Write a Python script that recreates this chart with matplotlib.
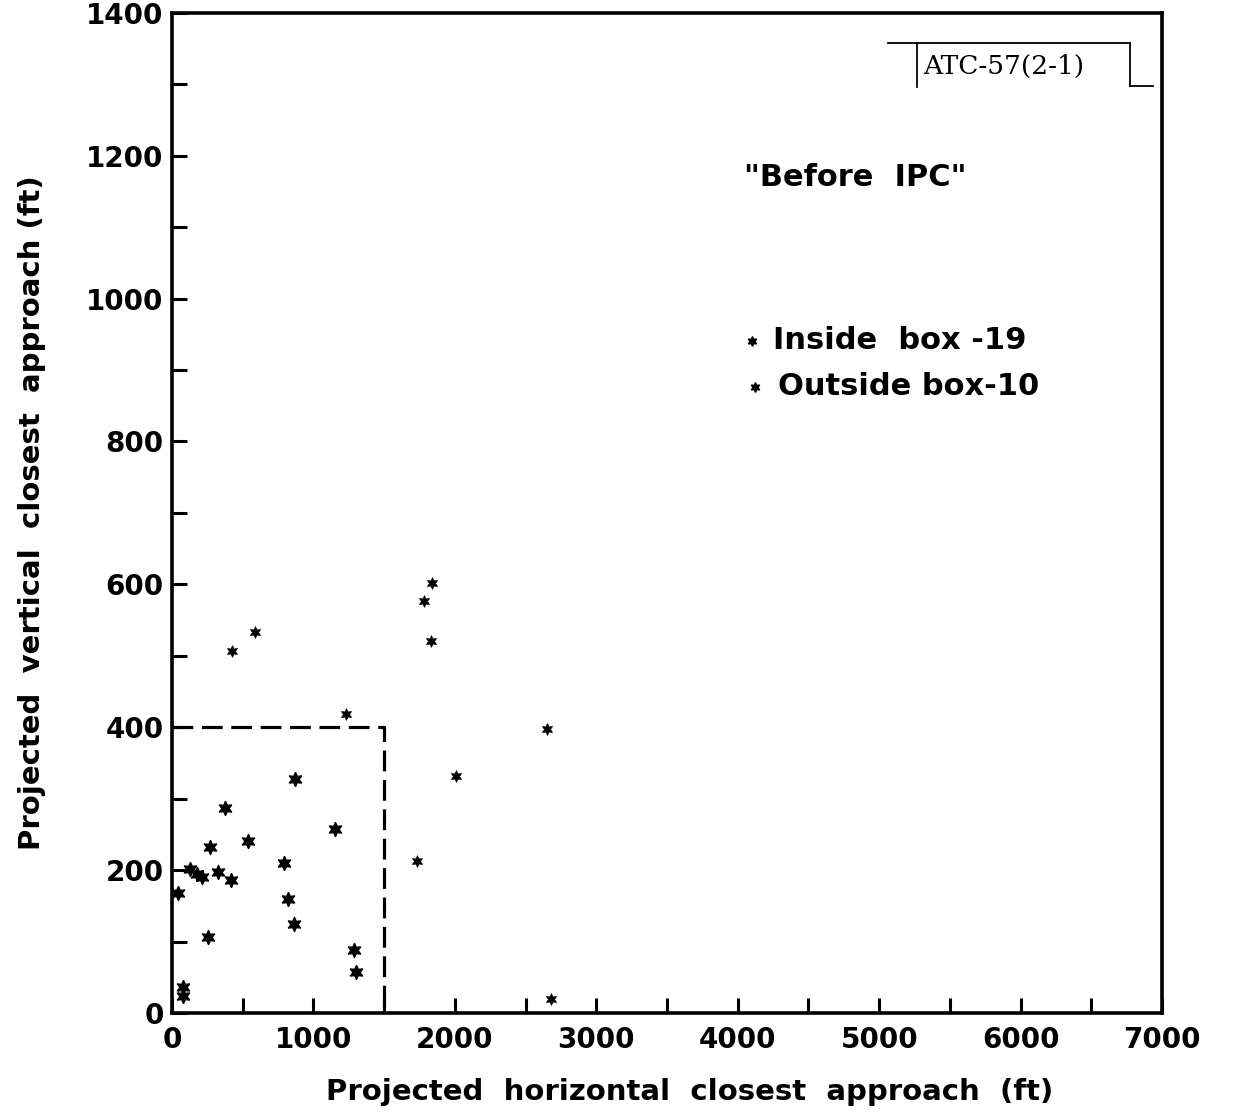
import numpy as np
import matplotlib
matplotlib.use("Agg")
import matplotlib.pyplot as plt
from matplotlib.ticker import MultipleLocator

# encounters inside the 1500 ft x 400 ft box (ft)
inside_x = [870, 377, 1153, 540, 269, 792, 127, 175, 214, 327,
            417, 40, 818, 865, 252, 1287, 1301, 80, 80]
inside_y = [327, 287, 257, 241, 232, 210, 201, 195, 191, 197,
            186, 168, 160, 125, 107, 88, 58, 36, 24]

# encounters outside the box (ft)
outside_x = [1841, 1784, 1829, 587, 427, 1231, 2008, 1735, 2654, 2680]
outside_y = [602, 576, 520, 533, 507, 419, 332, 213, 397, 19]

box_x = 1500
box_y = 400

x_max = 7000
y_max = 1400

plt.rcParams['font.family'] = 'DejaVu Sans'

fig = plt.figure(figsize=(12.34, 11.13), dpi=100)
ax = fig.add_axes([0.1394, 0.0898, 0.8023, 0.8988])

star = (6, 1, 0)
ax.plot(inside_x, inside_y, linestyle='none', marker=star, markersize=10.5,
        color='black', markeredgewidth=0.9)
ax.plot(outside_x, outside_y, linestyle='none', marker=star, markersize=8.5,
        color='black', markeredgewidth=0.5)

# the "box"
ax.plot([0, box_x, box_x], [box_y, box_y, 0], color='black', lw=2.3,
        dashes=(6.5, 2.7), clip_on=False)

ax.set_xlim(0, x_max)
ax.set_ylim(0, y_max)
ax.xaxis.set_major_locator(MultipleLocator(1000))
ax.xaxis.set_minor_locator(MultipleLocator(500))
ax.yaxis.set_major_locator(MultipleLocator(200))
ax.yaxis.set_minor_locator(MultipleLocator(100))
ax.tick_params(which='both', direction='in', length=11, width=2.2, color='black')
ax.tick_params(axis='x', which='major', labelsize=20, pad=9)
ax.tick_params(axis='y', which='major', labelsize=20, pad=6)
for lab in ax.get_xticklabels() + ax.get_yticklabels():
    lab.set_fontweight('bold')
for sp in ax.spines.values():
    sp.set_linewidth(2.6)

ax.set_xlabel('Projected  horizontal  closest  approach  (ft)', fontsize=21,
              fontweight='bold')
ax.xaxis.label.set_va('center')
ax.xaxis.set_label_coords(0.523, -0.079)
ax.set_ylabel('Projected  vertical  closest  approach (ft)', fontsize=21,
              fontweight='bold')
ax.yaxis.label.set_va('center')
ax.yaxis.set_label_coords(-0.141, 0.5)

ax.text(0.690, 0.835, '"Before  IPC"', transform=ax.transAxes, fontsize=22,
        fontweight='bold', ha='center', va='center')

# legend written as on the original
ax.plot([0.586, 0.589], [0.672, 0.626], linestyle='none', marker=star,
        markersize=7, color='black', transform=ax.transAxes)
ax.text(0.607, 0.672, f'Inside  box -{len(inside_x)}', transform=ax.transAxes,
        fontsize=22, fontweight='bold', ha='left', va='center')
ax.text(0.612, 0.626, f'Outside box-{len(outside_x)}', transform=ax.transAxes,
        fontsize=22, fontweight='bold', ha='left', va='center')

# report number tab
tab = dict(color='black', lw=1.3, transform=ax.transAxes, clip_on=False)
ax.plot([0.723, 0.968], [0.970, 0.970], **tab)
ax.plot([0.7525, 0.7525], [0.970, 0.926], **tab)
ax.plot([0.968, 0.968], [0.970, 0.927], **tab)
ax.plot([0.968, 0.991], [0.927, 0.927], **tab)
ax.text(0.759, 0.946, 'ATC-57(2-1)', transform=ax.transAxes, fontsize=19,
        family='DejaVu Serif', ha='left', va='center')

fig.savefig('out.png', dpi=100)
